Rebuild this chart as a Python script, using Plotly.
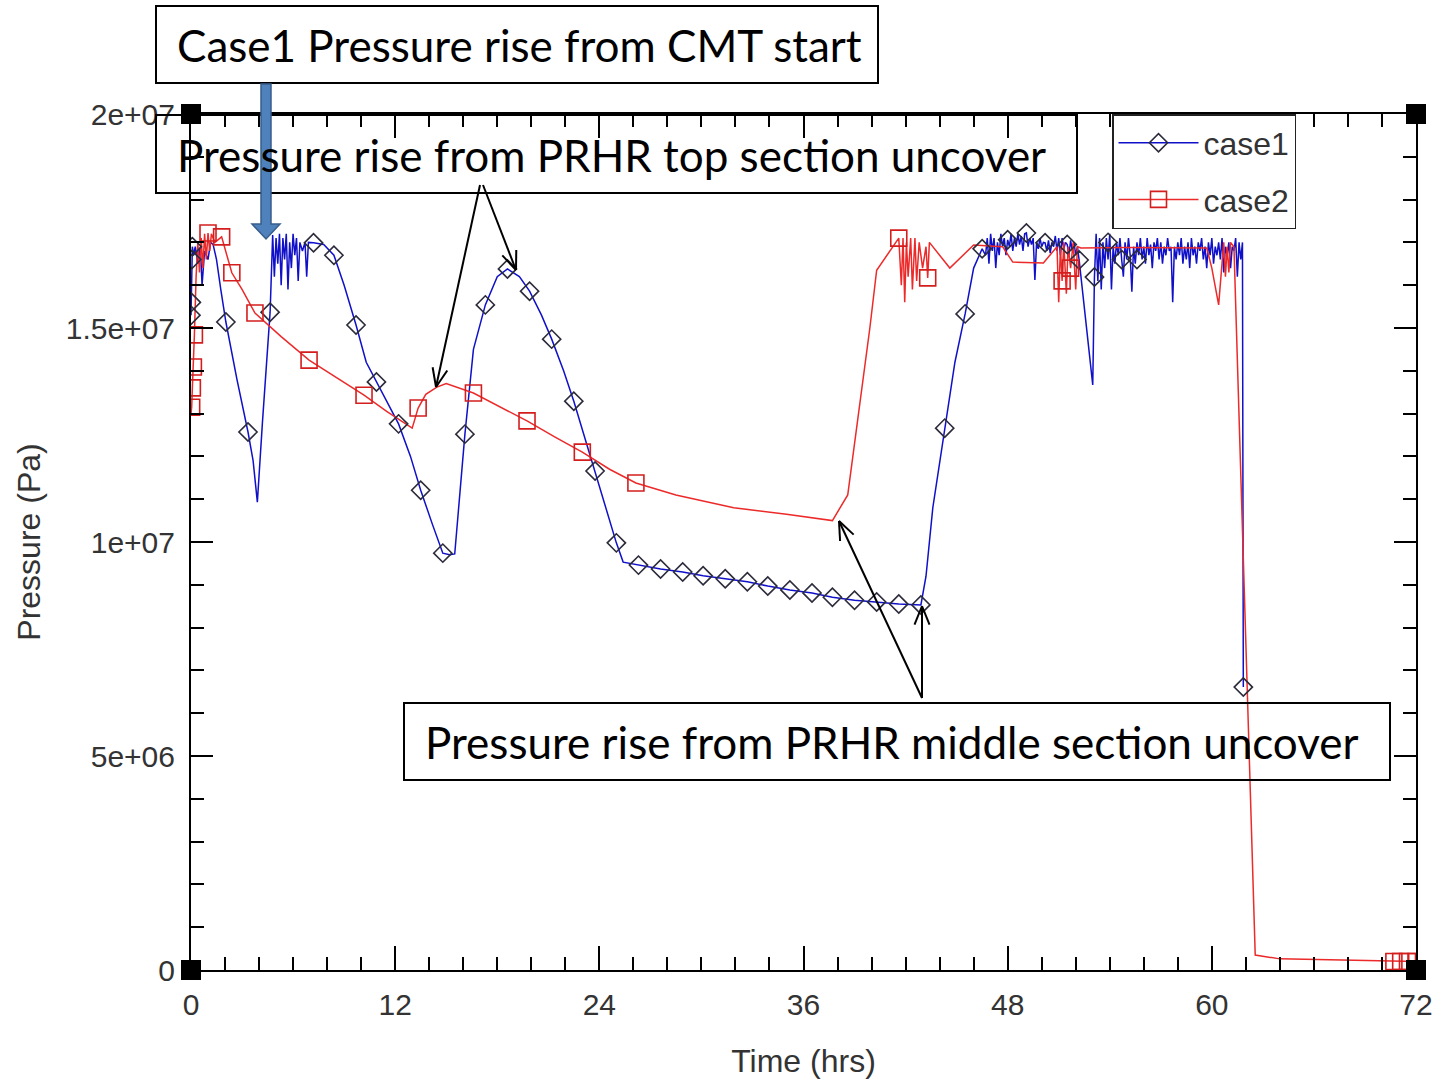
import math
import plotly.graph_objects as go

# ---------------- data (time in hrs, pressure in Pa) ----------------
case1_t = [0.00, 0.02, 0.05, 0.08, 0.15, 0.25, 0.40, 0.55, 0.65, 0.80, 1.00, 1.15, 1.30, 1.50, 1.75,
           2.05, 2.70, 3.35, 3.65, 3.90, 4.20, 4.50, 4.65, 4.80, 4.90, 5.00, 5.10, 5.20, 5.30, 5.40,
           5.50, 5.60, 5.70, 5.80, 5.90, 6.00, 6.10, 6.20, 6.30, 6.40, 6.55, 6.70, 6.80, 6.90, 7.20,
           7.80, 8.40, 9.00, 9.70, 10.30, 10.90, 11.50, 12.20, 12.90, 13.50, 14.20, 14.80, 15.20, 15.50,
           16.10, 16.60, 17.30, 18.00, 18.60, 19.30, 19.90, 20.60, 21.20, 21.90, 22.50, 23.10, 23.75,
           24.40, 25.00, 25.40, 26.30, 27.60, 28.90, 30.10, 31.40, 32.70, 33.90, 35.20, 36.50, 37.70,
           39.00, 40.30, 41.60, 42.90, 43.20, 43.60, 44.30, 44.90, 45.50, 46.00, 46.50,
           46.7, 46.8, 46.9, 47.0, 47.1, 47.2, 47.3, 47.4, 47.5, 47.6, 47.7, 47.8, 47.9, 48.0, 48.1,
           48.2, 48.3, 48.4, 48.5, 48.6, 48.7, 48.8, 48.9, 49.0, 49.1, 49.2, 49.3, 49.4, 49.5, 49.6,
           49.7, 49.8, 49.9, 50.0, 50.1, 50.2, 50.3, 50.4, 50.5, 50.6, 50.7, 50.8, 50.9, 51.0, 51.1,
           51.2, 51.3, 51.4, 51.5, 51.6, 51.7, 51.8, 51.9, 52.0, 52.1, 52.2, 53.0,
           53.1, 53.2, 53.3, 53.4, 53.5, 53.6, 53.7, 53.8, 53.9, 54.0, 54.1, 54.2, 54.3, 54.4, 54.5,
           54.6, 54.7, 54.8, 54.9, 55.0, 55.1, 55.2, 55.3, 55.4, 55.5, 55.6, 55.7, 55.8, 55.9, 56.0,
           56.1, 56.2, 56.3, 56.4, 56.5, 56.6, 56.7, 56.8, 56.9, 57.0, 57.1, 57.2, 57.3, 57.4, 57.5,
           57.6, 57.7, 57.8, 57.9, 58.0, 58.1, 58.2, 58.3, 58.4, 58.5, 58.6, 58.7, 58.8, 58.9, 59.0,
           59.1, 59.2, 59.3, 59.4, 59.5, 59.6, 59.7, 59.8, 59.9, 60.0, 60.1, 60.2, 60.3, 60.4, 60.5,
           60.6, 60.7, 60.8, 60.9, 61.0, 61.1, 61.2, 61.3, 61.4, 61.5, 61.6, 61.7, 61.8, 61.85]
case1_p = [15.3e6, 15.6e6, 16.6e6, 16.9e6, 16.7e6, 16.9e6, 16.5e6, 16.9e6, 16.0e6, 16.8e6, 16.6e6, 17.0e6,
           16.95e6, 16.6e6, 15.9e6, 15.14e6, 13.8e6, 12.57e6, 11.9e6, 10.93e6, 12.8e6, 14.6e6, 15.37e6,
           17.17e6, 16.2e6, 17.1e6, 16.5e6, 17.2e6, 16.0e6, 17.1e6, 16.6e6, 17.2e6, 15.9e6, 17.0e6,
           16.4e6, 17.2e6, 16.7e6, 17.1e6, 16.1e6, 17.0e6, 16.8e6, 17.0e6, 16.2e6, 17.0e6, 16.99e6,
           16.95e6, 16.7e6, 16.0e6, 15.07e6, 14.2e6, 13.74e6, 13.3e6, 12.76e6, 12.0e6, 11.21e6, 10.4e6,
           9.74e6, 9.70e6, 9.72e6, 12.52e6, 14.5e6, 15.54e6, 16.2e6, 16.38e6, 16.2e6, 15.86e6, 15.3e6,
           14.74e6, 14.0e6, 13.29e6, 12.5e6, 11.66e6, 10.8e6, 9.98e6, 9.53e6, 9.46e6, 9.37e6, 9.30e6,
           9.21e6, 9.14e6, 9.07e6, 8.97e6, 8.88e6, 8.81e6, 8.71e6, 8.64e6, 8.60e6, 8.55e6, 8.53e6,
           9.2e6, 10.8e6, 12.66e6, 14.2e6, 15.33e6, 16.4e6, 16.85e6,
           16.7e6, 17.1e6, 16.5e6, 17.2e6, 16.8e6, 17.1e6, 16.4e6, 17.0e6, 16.7e6, 17.2e6, 16.9e6,
           17.1e6, 16.7e6, 17.06e6, 16.9e6, 17.2e6, 16.8e6, 17.1e6, 16.9e6, 17.2e6, 16.95e6, 17.15e6,
           16.8e6, 17.2e6, 17.22e6, 16.9e6, 17.1e6, 16.95e6, 17.1e6, 16.12e6, 17.0e6, 16.85e6, 17.1e6,
           16.9e6, 17.0e6, 16.99e6, 16.8e6, 17.05e6, 16.75e6, 17.0e6, 16.9e6, 17.15e6, 16.8e6, 17.1e6,
           16.7e6, 17.1e6, 16.85e6, 17.0e6, 16.95e6, 16.7e6, 17.05e6, 16.8e6, 17.0e6, 16.7e6, 16.9e6,
           16.59e6, 13.67e6,
           16.19e6, 17.2e6, 16.1e6, 17.1e6, 15.9e6, 17.0e6, 16.4e6, 17.1e6, 16.6e6, 17.2e6, 15.9e6,
           16.9e6, 16.5e6, 17.0e6, 16.7e6, 17.1e6, 16.6e6, 16.2e6, 17.0e6, 16.6e6, 17.1e6, 16.7e6,
           15.85e6, 16.9e6, 16.5e6, 17.0e6, 16.7e6, 17.1e6, 16.6e6, 16.9e6, 16.5e6, 17.1e6, 16.7e6,
           16.95e6, 16.4e6, 17.0e6, 16.8e6, 17.1e6, 16.6e6, 17.0e6, 16.5e6, 16.9e6, 16.7e6, 17.1e6,
           16.8e6, 16.9e6, 15.6e6, 16.9e6, 16.6e6, 17.0e6, 16.7e6, 17.1e6, 16.5e6, 16.9e6, 16.6e6,
           17.0e6, 16.4e6, 17.1e6, 16.7e6, 16.9e6, 16.5e6, 17.0e6, 16.8e6, 17.1e6, 16.6e6, 16.9e6,
           16.4e6, 17.0e6, 16.7e6, 17.1e6, 16.5e6, 16.9e6, 16.7e6, 17.0e6, 16.6e6, 17.1e6, 16.3e6,
           16.9e6, 16.7e6, 17.0e6, 16.4e6, 16.9e6, 16.8e6, 17.1e6, 16.2e6, 17.0e6, 16.6e6, 17.0e6,
           6.61e6]

case1_mark_t = [0.00, 0.02, 0.05, 0.08, 2.05, 3.35, 4.65, 7.20, 8.40, 9.70, 10.90, 12.20, 13.50, 14.80,
                16.10, 17.30, 18.60, 19.90, 21.20, 22.50, 23.75, 25.00, 26.30, 27.60, 28.90, 30.10,
                31.40, 32.70, 33.90, 35.20, 36.50, 37.70, 39.00, 40.30, 41.60, 42.90, 44.30, 45.50,
                46.50, 48.00, 49.10, 50.20, 51.50, 52.20, 53.10, 53.90, 54.70, 55.60, 61.85]
case1_mark_p = [15.3e6, 15.6e6, 16.6e6, 16.9e6, 15.14e6, 12.57e6, 15.37e6, 16.99e6, 16.7e6, 15.07e6,
                13.74e6, 12.76e6, 11.21e6, 9.74e6, 12.52e6, 15.54e6, 16.38e6, 15.86e6, 14.74e6, 13.29e6,
                11.66e6, 9.98e6, 9.46e6, 9.37e6, 9.30e6, 9.21e6, 9.14e6, 9.07e6, 8.97e6, 8.88e6, 8.81e6,
                8.71e6, 8.64e6, 8.60e6, 8.55e6, 8.53e6, 12.66e6, 15.33e6, 16.85e6, 17.06e6, 17.22e6,
                16.99e6, 16.95e6, 16.59e6, 16.19e6, 17.0e6, 16.6e6, 16.6e6, 6.61e6]

case2_t = [0.00, 0.04, 0.08, 0.14, 0.20, 0.30, 0.40, 0.50, 0.60, 0.70, 0.80, 0.90, 1.00, 1.10, 1.20,
           1.40, 1.80, 2.40, 3.00, 3.76, 5.30, 6.94, 8.50, 10.17, 11.50, 13.00, 13.35, 13.80, 14.45,
           15.00, 16.60, 18.20, 19.75, 21.40, 23.00, 24.60, 26.15, 28.50, 31.90, 35.00, 37.70, 38.60,
           39.90, 40.30, 41.40, 41.60, 41.75, 41.85, 41.95, 42.05, 42.15, 42.30, 42.40, 42.55, 42.65,
           42.80, 43.00, 43.20, 43.30, 43.40, 44.60, 46.00, 47.70, 48.30, 50.10, 50.90, 51.00, 51.10,
           51.20, 51.30, 51.45, 51.55, 51.70, 51.85, 52.00, 52.10, 52.30, 55.00, 59.70, 60.00, 60.40,
           60.60, 60.70, 60.80, 60.90, 61.00, 61.10, 61.30, 62.55, 64.00, 70.30, 70.70, 71.10, 71.50,
           72.00]
case2_p = [13.0e6, 13.15e6, 13.6e6, 14.09e6, 14.84e6, 16.2e6, 17.0e6, 16.3e6, 17.1e6, 16.4e6, 17.2e6,
           16.6e6, 17.22e6, 16.8e6, 17.2e6, 17.0e6, 17.13e6, 16.29e6, 15.9e6, 15.35e6, 14.8e6, 14.25e6,
           13.85e6, 13.43e6, 13.05e6, 12.66e6, 13.13e6, 13.45e6, 13.62e6, 13.7e6, 13.48e6, 13.15e6,
           12.83e6, 12.45e6, 12.1e6, 11.7e6, 11.38e6, 11.1e6, 10.8e6, 10.65e6, 10.5e6, 11.1e6, 15.0e6,
           16.35e6, 17.0e6, 17.1e6, 16.0e6, 17.1e6, 15.6e6, 17.0e6, 16.2e6, 17.1e6, 15.9e6, 17.1e6,
           16.1e6, 17.0e6, 16.4e6, 16.9e6, 16.17e6, 17.0e6, 16.4e6, 16.94e6, 16.9e6, 16.54e6, 16.52e6,
           16.9e6, 15.6e6, 16.9e6, 16.1e6, 17.0e6, 15.8e6, 16.9e6, 16.4e6, 17.0e6, 15.9e6, 16.9e6,
           16.87e6, 16.88e6, 16.87e6, 16.4e6, 15.54e6, 16.5e6, 17.0e6, 16.2e6, 16.9e6, 16.3e6, 17.0e6,
           16.9e6, 0.35e6, 0.26e6, 0.21e6, 0.20e6, 0.20e6, 0.20e6, 0.20e6]

case2_mark_t = [0.04, 0.08, 0.14, 0.20, 1.00, 1.80, 2.40, 3.76, 6.94, 10.17, 13.35, 16.60, 19.75, 23.00,
                26.15, 41.60, 43.30, 51.20, 51.70, 70.70, 71.10, 71.50, 72.00]
case2_mark_p = [13.15e6, 13.6e6, 14.09e6, 14.84e6, 17.22e6, 17.13e6, 16.29e6, 15.35e6, 14.25e6, 13.43e6,
                13.13e6, 13.48e6, 12.83e6, 12.1e6, 11.38e6, 17.1e6, 16.17e6, 16.1e6, 16.4e6, 0.20e6,
                0.20e6, 0.20e6, 0.20e6]

x_tickvals = [0, 12, 24, 36, 48, 60, 72]
x_ticktext = ["0", "12", "24", "36", "48", "60", "72"]
y_tickvals = [0, 5e6, 1e7, 1.5e7, 2e7]
y_ticktext = ["0", "5e+06", "1e+07", "1.5e+07", "2e+07"]

# ---------------- styles ----------------
BLUE = "#1010c8"
RED = "#ec2a2a"
DIAMOND_EDGE = "#2b2b3b"
SQUARE_EDGE = "#d41e1e"
SANS = "Liberation Sans, Arial, sans-serif"
TICKFONT = dict(family=SANS, size=30, color="#333333")
NOTEFONT = dict(family="Lato, Open Sans, sans-serif", size=44, color="#000000")

W, H = 1433, 1082
L, T, PW, PH = 191, 114, 1225, 856


def px(x):
    return (x - L) / PW


def py(y):
    return (T + PH - y) / PH


fig = go.Figure()

fig.add_trace(go.Scatter(x=case1_t, y=case1_p, mode="lines", line=dict(color=BLUE, width=1.5),
                         showlegend=False, legendgroup="c1", hoverinfo="skip"))
fig.add_trace(go.Scatter(x=case2_t, y=case2_p, mode="lines", line=dict(color=RED, width=1.5),
                         showlegend=False, legendgroup="c2", hoverinfo="skip"))
fig.add_trace(go.Scatter(x=case1_mark_t, y=case1_mark_p, mode="markers",
                         marker=dict(symbol="diamond-open", size=14, color=DIAMOND_EDGE,
                                     line=dict(width=1.6, color=DIAMOND_EDGE)),
                         showlegend=False, legendgroup="c1"))
fig.add_trace(go.Scatter(x=case2_mark_t, y=case2_mark_p, mode="markers",
                         marker=dict(symbol="square-open", size=16, color=SQUARE_EDGE,
                                     line=dict(width=1.6, color=SQUARE_EDGE)),
                         showlegend=False, legendgroup="c2"))
# legend entries
fig.add_trace(go.Scatter(x=[None], y=[None], mode="lines+markers", name="case1", legendgroup="c1",
                         line=dict(color=BLUE, width=1.5),
                         marker=dict(symbol="diamond-open", size=14, color=DIAMOND_EDGE,
                                     line=dict(width=1.6, color=DIAMOND_EDGE))))
fig.add_trace(go.Scatter(x=[None], y=[None], mode="lines+markers", name="case2", legendgroup="c2",
                         line=dict(color=RED, width=1.5),
                         marker=dict(symbol="square-open", size=16, color=SQUARE_EDGE,
                                     line=dict(width=1.6, color=SQUARE_EDGE))))

shapes = []
# annotation boxes
for (x0, y0, x1, y1) in [(156, 6, 878, 83), (156, 115, 1077, 193), (404, 703, 1390, 780)]:
    shapes.append(dict(type="rect", xref="paper", yref="paper", x0=px(x0), x1=px(x1), y0=py(y1), y1=py(y0),
                       line=dict(color="black", width=2), fillcolor="rgba(0,0,0,0)", layer="above"))

# blue block arrow
pts = [(261, 84), (271, 84), (271, 224), (280, 224), (266, 239), (252, 224), (261, 224)]
path = "M " + " L ".join(f"{px(a)},{py(b)}" for a, b in pts) + " Z"
shapes.append(dict(type="path", xref="paper", yref="paper", path=path, fillcolor="#4F81BD",
                   line=dict(color="#385D8A", width=1.5), layer="above"))


def arrow(x0, y0, x1, y1, head=20, ang=22):
    out = [dict(type="line", xref="paper", yref="paper", x0=px(x0), y0=py(y0), x1=px(x1), y1=py(y1),
                line=dict(color="black", width=2), layer="above")]
    a = math.atan2(y0 - y1, x0 - x1)
    for s in (-1, 1):
        b = a + s * math.radians(ang)
        hx, hy = x1 + head * math.cos(b), y1 + head * math.sin(b)
        out.append(dict(type="line", xref="paper", yref="paper", x0=px(x1), y0=py(y1), x1=px(hx), y1=py(hy),
                        line=dict(color="black", width=2), layer="above"))
    return out


shapes += arrow(480, 185, 436, 387)
shapes += arrow(483, 185, 516, 270)
shapes += arrow(922, 698, 839, 521)
shapes += arrow(922, 698, 922, 606)

# black corner squares
for cx, cy in [(191, 114), (1416, 114), (191, 970), (1416, 970)]:
    shapes.append(dict(type="rect", xref="paper", yref="paper", x0=px(cx - 10), x1=px(cx + 10),
                       y0=py(cy + 10), y1=py(cy - 10), fillcolor="black", line=dict(width=0), layer="above"))

annotations = [
    dict(text="Case1 Pressure rise from CMT start", x=px(175), y=py(45)),
    dict(text="Pressure rise from PRHR top section uncover", x=px(175), y=py(155)),
    dict(text="Pressure rise from PRHR middle section uncover", x=px(423), y=py(742)),
]
for a in annotations:
    a.update(xref="paper", yref="paper", xanchor="left", yanchor="middle", showarrow=False, font=NOTEFONT)

fig.update_layout(
    width=W, height=H, autosize=False,
    margin=dict(l=L, r=W - L - PW, t=T, b=H - T - PH, pad=0, autoexpand=False),
    paper_bgcolor="white", plot_bgcolor="white",
    shapes=shapes, annotations=annotations,
    showlegend=True,
    legend=dict(x=px(1112), y=1.0, xanchor="left", yanchor="top", bgcolor="white",
                bordercolor="#222222", borderwidth=1.5, tracegroupgap=12,
                font=dict(family=SANS, size=32, color="#333333"),
                itemwidth=80),
)

fig.update_xaxes(range=[0, 72], tickvals=x_tickvals, ticktext=x_ticktext, ticks="inside", ticklen=24,
                 tickwidth=2, tickcolor="black", showline=True, linecolor="black", linewidth=2,
                 mirror="allticks", showgrid=False, zeroline=False, tickfont=TICKFONT, ticklabelstandoff=7,
                 automargin=False,
                 minor=dict(dtick=2, ticks="inside", ticklen=13, tickwidth=2, tickcolor="black", showgrid=False),
                 title=dict(text="Time (hrs)", font=dict(family=SANS, size=32, color="#333333"), standoff=30))
fig.update_yaxes(range=[0, 2e7], tickvals=y_tickvals, ticktext=y_ticktext, ticks="inside", ticklen=22,
                 tickwidth=2, tickcolor="black", showline=True, linecolor="black", linewidth=2,
                 mirror="allticks", showgrid=False, zeroline=False, tickfont=TICKFONT, ticklabelstandoff=8,
                 automargin=False,
                 minor=dict(dtick=1e6, ticks="inside", ticklen=13, tickwidth=2, tickcolor="black", showgrid=False),
                 title=dict(text="Pressure (Pa)", font=dict(family=SANS, size=32, color="#333333"), standoff=16))

fig.write_html("out.html")
